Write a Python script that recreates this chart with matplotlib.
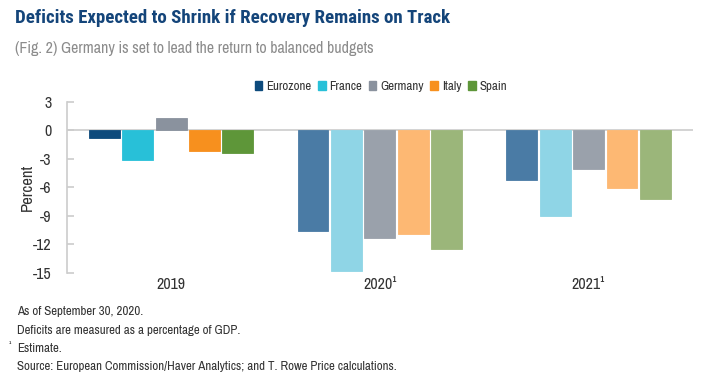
import numpy as np
import matplotlib
matplotlib.use("Agg")
import matplotlib.pyplot as plt
from matplotlib.patches import Patch

plt.rcParams["font.family"] = ["Archivo Narrow", "Liberation Sans", "DejaVu Sans"]

years = ["2019", "2020¹", "2021¹"]
countries = ["Eurozone", "France", "Germany", "Italy", "Spain"]
eurozone = [-0.8, -10.6, -5.2]
france = [-3.1, -14.8, -9.0]
germany = [1.3, -11.3, -4.1]
italy = [-2.2, -10.9, -6.1]
spain = [-2.4, -12.5, -7.2]
series = [eurozone, france, germany, italy, spain]

# actual year in full colour, estimates lighter
dark = ["#0d4a7c", "#28c0d8", "#8a929e", "#f7901e", "#5e9639"]
light = ["#4a7ba5", "#8fd5e6", "#9aa1ab", "#fdb873", "#9bb67a"]

fig = plt.figure(figsize=(7.19, 3.85), dpi=100)
ax = fig.add_axes([0.0928, 0.2917, 0.871, 0.4442])

x = np.arange(len(years))
pitch, width = 0.16, 0.148
for i, vals in enumerate(series):
    pos = x + (i - 2) * pitch
    cols = [dark[i]] + [light[i]] * (len(years) - 1)
    ax.bar(pos, vals, width=width, color=cols, edgecolor=cols, linewidth=0.6, zorder=3)

ax.axhline(0, color="#cccccc", linewidth=1.2, zorder=2)
ax.set_xlim(-0.5, 2.5)
ax.set_ylim(-15, 3)
ax.set_yticks(np.arange(-15, 4, 3))
ax.set_yticklabels([str(v) for v in range(-15, 4, 3)])
ax.set_xticks(x)
ax.set_xticklabels(years)
for s in ["top", "right", "bottom"]:
    ax.spines[s].set_visible(False)
ax.spines["left"].set_color("#cccccc")
ax.spines["left"].set_linewidth(1.2)
ax.tick_params(axis="y", direction="in", length=5, color="#cccccc", width=1.2,
               labelsize=11.5, labelcolor="#333333", pad=11)
ax.tick_params(axis="x", length=0, labelsize=11.5, labelcolor="#333333", pad=3)
ax.set_ylabel("Percent", fontsize=12, color="#333333")
ax.yaxis.set_label_coords(-0.0506, 0.5)

handles = [Patch(facecolor=c, edgecolor=c) for c in dark]
fig.legend(handles, countries, loc="center left", bbox_to_anchor=(0.338, 0.775),
           ncol=5, frameon=False, fontsize=9.3, handlelength=0.6, handleheight=0.6,
           handletextpad=0.3, columnspacing=0.5, labelcolor="#333333")

fig.text(0.021, 0.953, "Deficits Expected to Shrink if Recovery Remains on Track",
         family=["Roboto Condensed", "Liberation Sans"], fontsize=13.6,
         fontweight="bold", color="#14457a", va="center")
fig.text(0.021, 0.875, "(Fig. 2) Germany is set to lead the return to balanced budgets",
         fontsize=11.5, color="#8c8c8c", va="center")

notes = ["As of September 30, 2020.",
         "Deficits are measured as a percentage of GDP.",
         "Estimate.",
         "Source: European Commission/Haver Analytics; and T. Rowe Price calculations."]
for k, line in enumerate(notes):
    ypix = 311.7 + k * 18.3
    fig.text(17 / 719, 1 - ypix / 385, line, fontsize=9.3, color="#333333", va="center")
fig.text(9 / 719, 1 - 345 / 385, "¹", fontsize=6.5, color="#333333", va="center")

fig.savefig("out.png", dpi=100)
